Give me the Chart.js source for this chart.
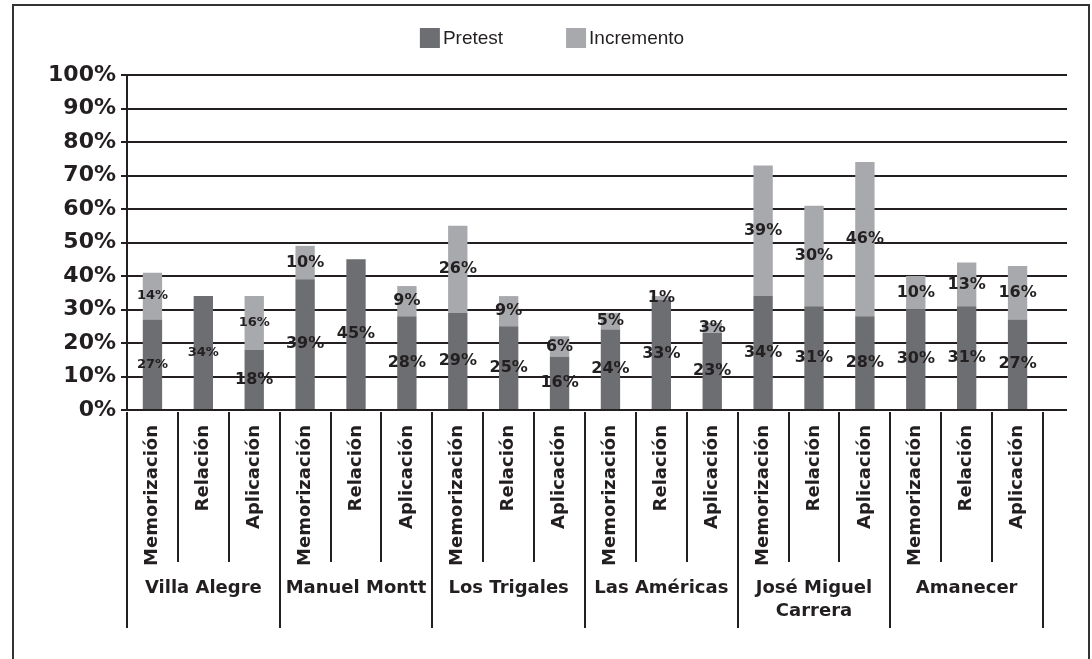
<!DOCTYPE html>
<html lang="es">
<head>
<meta charset="utf-8">
<script src="https://cdn.jsdelivr.net/npm/chart.js"></script>
<style>
  html, body { margin: 0; padding: 0; background: #fff; }
  #contenedor { width: 1092px; height: 659px; }
</style>
</head>
<body>
<div id="contenedor"><canvas id="grafica-niveles"></canvas></div>
<script>
// Datos (porcentajes)
const categorias = [
  'Memorización', 'Relación', 'Aplicación',
  'Memorización', 'Relación', 'Aplicación',
  'Memorización', 'Relación', 'Aplicación',
  'Memorización', 'Relación', 'Aplicación',
  'Memorización', 'Relación', 'Aplicación',
  'Memorización', 'Relación', 'Aplicación'
];
const grupos = ['Villa Alegre', 'Manuel Montt', 'Los Trigales', 'Las Américas', ['José Miguel', 'Carrera'], 'Amanecer'];
const pretest = [27, 34, 18, 39, 45, 28, 29, 25, 16, 24, 33, 23, 34, 31, 28, 30, 31, 27];
const incremento = [14, 0, 16, 10, 0, 9, 26, 9, 6, 5, 1, 3, 39, 30, 46, 10, 13, 16];
const marcasY = [0, 10, 20, 30, 40, 50, 60, 70, 80, 90, 100];

const COLOR_TEXTO = '#231f20';
const FUENTE = '"DejaVu Sans", Verdana, sans-serif';

// marco exterior y leyenda dibujada a mano
const marcoYLeyenda = {
  id: 'marcoYLeyenda',
  beforeDraw(chart) {
    const c = chart.ctx;
    c.save();
    c.fillStyle = '#fff';
    c.fillRect(0, 0, chart.width, chart.height);
    c.strokeStyle = '#333';
    c.lineWidth = 2;
    c.strokeRect(13, 5, 1076, 700);

    c.font = '19px "Liberation Sans", Arial, sans-serif';
    c.textBaseline = 'middle';
    c.textAlign = 'left';
    const items = chart.data.datasets.map(d => ({
      texto: d.label,
      color: d.backgroundColor,
      ancho: 23 + c.measureText(d.label).width
    }));
    const sep = 63;
    const total = items.reduce((a, it) => a + it.ancho, 0) + sep * (items.length - 1);
    let x = 552 - total / 2;
    items.forEach(it => {
      c.fillStyle = it.color;
      c.fillRect(x, 28, 20, 20);
      c.fillStyle = COLOR_TEXTO;
      c.fillText(it.texto, x + 23, 39);
      x += it.ancho + sep;
    });
    c.restore();
  }
};

// separadores del eje x, nombres de colegios y etiquetas de valores
const ejeYEtiquetas = {
  id: 'ejeYEtiquetas',
  afterDraw(chart) {
    const c = chart.ctx;
    const x = chart.scales.x;
    const y = chart.scales.y;
    const area = chart.chartArea;
    const ancho = (x.right - x.left) / categorias.length;
    c.save();
    c.strokeStyle = COLOR_TEXTO;
    c.lineWidth = 2;

    // cola de las lineas de cuadricula a la derecha
    marcasY.forEach(v => {
      const py = Math.round(y.getPixelForValue(v));
      c.beginPath();
      c.moveTo(area.right - 1, py);
      c.lineTo(area.right + 24, py);
      c.stroke();
    });

    for (let i = 0; i <= categorias.length; i++) {
      const px = Math.round(x.getPixelForValue(Math.min(i, categorias.length - 1)) + (i === categorias.length ? ancho / 2 : -ancho / 2));
      const fin = i % 3 === 0 ? area.bottom + 218 : area.bottom + 152;
      c.beginPath();
      c.moveTo(px, area.bottom + 2);
      c.lineTo(px, fin);
      c.stroke();
    }

    c.fillStyle = COLOR_TEXTO;
    c.textAlign = 'center';
    c.textBaseline = 'middle';
    c.font = 'bold 18px ' + FUENTE;
    grupos.forEach((g, k) => {
      const cx = x.getPixelForValue(k * 3 + 1);
      const lineas = Array.isArray(g) ? g : [g];
      lineas.forEach((t, j) => c.fillText(t, cx, area.bottom + 178 + j * 23));
    });

    chart.data.datasets.forEach((ds, d) => {
      chart.getDatasetMeta(d).data.forEach((barra, i) => {
        const v = ds.data[i];
        if (!v) return;
        const pequena = i < 2 || (d === 1 && i === 2);
        c.font = 'bold ' + (pequena ? 13 : 16) + 'px ' + FUENTE;
        c.fillText(v + '%', barra.x, (barra.y + barra.base) / 2);
      });
    });
    c.restore();
  }
};

new Chart(document.getElementById('grafica-niveles'), {
  type: 'bar',
  data: {
    labels: categorias,
    datasets: [
      { label: 'Pretest', data: pretest, backgroundColor: '#6d6e71', barPercentage: 0.38, categoryPercentage: 1 },
      { label: 'Incremento', data: incremento, backgroundColor: '#a7a9ac', barPercentage: 0.38, categoryPercentage: 1 }
    ]
  },
  options: {
    responsive: true,
    maintainAspectRatio: false,
    animation: false,
    layout: { padding: { top: 75, left: 12, right: 49, bottom: 0 } },
    plugins: {
      legend: { display: false },
      tooltip: { enabled: false }
    },
    scales: {
      x: {
        stacked: true,
        grid: { display: false, drawTicks: false },
        border: { display: false },
        ticks: {
          minRotation: 90,
          maxRotation: 90,
          autoSkip: false,
          padding: 15,
          color: COLOR_TEXTO,
          font: { family: FUENTE, size: 18, weight: 'bold' }
        },
        afterFit: s => { s.height = 249; }
      },
      y: {
        stacked: true,
        min: 0,
        max: 100,
        z: 1,
        grid: { color: COLOR_TEXTO, lineWidth: 2, tickLength: 6 },
        border: { display: true, color: COLOR_TEXTO, width: 2 },
        afterBuildTicks: s => { s.ticks = marcasY.map(v => ({ value: v })); },
        ticks: {
          padding: 5,
          color: COLOR_TEXTO,
          font: { family: FUENTE, size: 22, weight: 'bold' },
          callback: v => v + '%'
        },
        afterFit: s => { s.width = 115; }
      }
    }
  },
  plugins: [marcoYLeyenda, ejeYEtiquetas]
});
</script>
</body>
</html>
